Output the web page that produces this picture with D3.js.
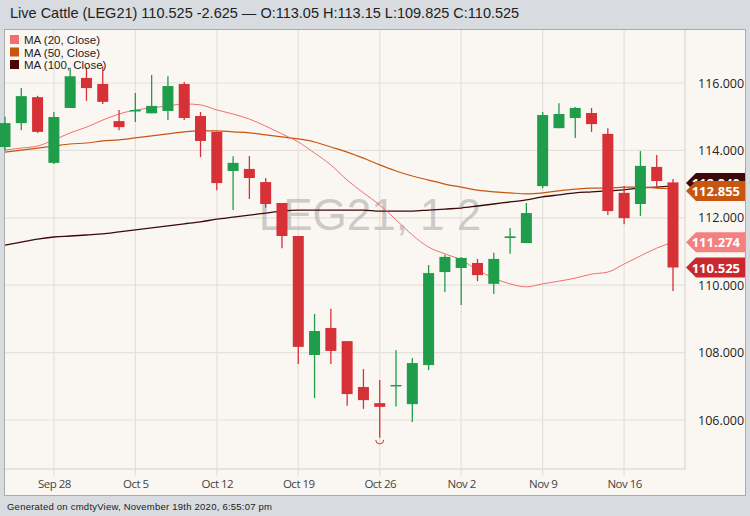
<!DOCTYPE html>
<html><head><meta charset="utf-8">
<script src="https://cdn.jsdelivr.net/npm/d3@7"></script>
<style>body{margin:0;background:#d8dbdf;}svg{display:block;font-family:"Open Sans",sans-serif;}</style>
</head><body><svg id="c" width="750" height="516"></svg>
<script>
const dates = ["Sep 23","Sep 24","Sep 25","Sep 28","Sep 29","Sep 30","Oct 1","Oct 2","Oct 5","Oct 6","Oct 7","Oct 8","Oct 9","Oct 12","Oct 13","Oct 14","Oct 15","Oct 16","Oct 19","Oct 20","Oct 21","Oct 22","Oct 23","Oct 26","Oct 27","Oct 28","Oct 29","Oct 30","Nov 2","Nov 3","Nov 4","Nov 5","Nov 6","Nov 9","Nov 10","Nov 11","Nov 12","Nov 13","Nov 16","Nov 17","Nov 18","Nov 19"];
const open  = [114.10,114.81,115.58,113.63,115.26,116.15,115.97,114.87,115.16,115.10,115.17,115.97,115.02,114.55,113.39,113.45,113.06,112.44,111.46,107.93,108.73,108.34,106.98,106.50,107.00,106.47,107.63,110.39,110.51,110.66,110.04,111.40,111.25,112.94,114.66,114.96,115.11,114.49,112.74,112.41,113.51,113.05];
const high  = [115.00,115.85,115.62,115.14,116.45,116.47,116.50,115.20,115.70,116.24,116.20,116.03,115.14,114.55,113.83,113.83,113.18,112.44,111.46,109.15,109.30,108.34,107.51,107.19,108.08,107.84,110.60,110.90,110.84,110.78,110.96,111.70,112.44,115.14,115.40,115.29,115.26,114.66,112.94,113.98,113.86,113.15];
const low   = [114.00,114.60,114.52,113.60,115.26,115.47,115.38,114.60,114.84,115.10,114.90,114.90,113.80,112.82,112.23,112.56,112.30,111.10,107.66,106.65,107.66,106.42,106.33,105.47,106.40,105.94,107.48,109.80,109.41,110.12,109.74,110.93,111.25,112.88,114.66,114.37,114.55,112.08,111.81,112.05,112.88,109.825];
const close = [114.81,115.61,114.55,114.99,116.20,115.85,115.44,114.69,115.20,115.32,115.91,114.96,114.28,113.03,113.63,113.18,112.41,111.46,108.17,108.64,108.05,106.77,106.59,106.39,107.04,107.69,110.36,110.84,110.81,110.30,110.78,111.45,112.14,115.05,115.08,115.26,114.78,112.20,111.99,113.54,113.09,110.525];
const ma20  = [114.01,114.07,114.13,114.31,114.52,114.69,114.90,115.08,115.20,115.26,115.32,115.38,115.35,115.20,115.08,114.93,114.72,114.49,114.25,113.92,113.57,113.12,112.74,112.38,111.94,111.49,111.13,110.93,110.75,110.45,110.21,110.04,109.95,110.04,110.12,110.21,110.33,110.39,110.63,110.87,111.10,111.274];
const ma50  = [113.95,114.01,114.07,114.13,114.19,114.22,114.28,114.31,114.37,114.43,114.49,114.55,114.58,114.58,114.55,114.52,114.46,114.40,114.34,114.25,114.10,113.95,113.77,113.57,113.39,113.24,113.12,113.00,112.91,112.82,112.77,112.74,112.71,112.74,112.80,112.85,112.88,112.88,112.91,112.91,112.88,112.855];
const ma100 = [111.19,111.28,111.37,111.43,111.46,111.49,111.52,111.58,111.64,111.70,111.76,111.82,111.88,111.96,112.02,112.08,112.14,112.20,112.23,112.23,112.23,112.23,112.23,112.20,112.20,112.20,112.23,112.26,112.29,112.35,112.41,112.47,112.53,112.62,112.68,112.74,112.77,112.80,112.83,112.89,112.91,112.94];
const yTicks = [106,108,110,112,114,116];
const xTicks = ["Sep 28","Oct 5","Oct 12","Oct 19","Oct 26","Nov 2","Nov 9","Nov 16"];

const svg = d3.select("#c");
const x = d3.scalePoint().domain(dates).range([5,673]);
const y = d3.scaleLinear().domain([106,116]).range([420,83]);
const G="#1f9d4b", R="#d63137";

svg.append("rect").attr("x",4.5).attr("y",29.5).attr("width",741).attr("height",466).attr("fill","#faf7f2").attr("stroke","#a9abae");
svg.append("text").attr("x",10).attr("y",18).attr("font-size",14.5).attr("fill","#222").attr("font-family","Liberation Sans, Arial").text("Live Cattle (LEG21) 110.525 -2.625 — O:113.05 H:113.15 L:109.825 C:110.525");
svg.append("text").attr("x",7).attr("y",510).attr("font-size",9.5).attr("fill","#222").attr("font-family","Liberation Sans, Arial").attr("textLength",265).text("Generated on cmdtyView, November 19th 2020, 6:55:07 pm");

const g = svg.append("g");
g.selectAll(".hg").data(yTicks).join("line").attr("x1",5).attr("x2",685).attr("y1",d=>y(d)).attr("y2",d=>y(d)).attr("stroke","#e4e1dc").attr("stroke-width",1.2);
g.selectAll(".vg").data(xTicks).join("line").attr("x1",d=>x(d)).attr("x2",d=>x(d)).attr("y1",30).attr("y2",476).attr("stroke","#e4e1dc").attr("stroke-width",1.2);
g.append("line").attr("x1",685).attr("x2",685).attr("y1",30).attr("y2",469).attr("stroke","#e0ddd8").attr("stroke-width",1.5);
g.append("line").attr("x1",5).attr("x2",685).attr("y1",469).attr("y2",469).attr("stroke","#e0ddd8").attr("stroke-width",1.5);

svg.append("text").attr("x",370).attr("y",230).attr("text-anchor","middle").attr("font-size",44).attr("fill","#b8b6b3").attr("fill-opacity",0.7).attr("font-family","Liberation Sans, Arial").text("LEG21, 1 2");

const ya = d3.axisRight(y).tickValues(yTicks).tickFormat(d3.format(".3f")).tickSize(0);
svg.append("g").attr("transform","translate(697,0)").call(ya).call(s=>{s.select(".domain").remove();s.selectAll("text").attr("font-size",12.5).attr("fill","#222").attr("font-family","Open Sans").attr("dx",-2);});
const xa = d3.axisBottom(x).tickValues(xTicks).tickSize(0);
svg.append("g").attr("transform","translate(0,477)").call(xa).call(s=>{s.select(".domain").remove();s.selectAll("text").attr("font-size",11.5).attr("fill","#444").attr("font-family","Open Sans").attr("letter-spacing",-0.5);});

const line = arr => d3.line().x((d,i)=>x(dates[i])).y(d=>y(d)).curve(d3.curveMonotoneX)(arr);
svg.append("path").attr("d",line(ma100)).attr("fill","none").attr("stroke","#3d0808").attr("stroke-width",1.3);
svg.append("path").attr("d",line(ma50)).attr("fill","none").attr("stroke","#c8560f").attr("stroke-width",1.2);
svg.append("path").attr("d",line(ma20)).attr("fill","none").attr("stroke","#f07070").attr("stroke-width",1);

const idx = d3.range(dates.length);
const cg = svg.append("g");
cg.selectAll(".w").data(idx).join("line").attr("x1",i=>x(dates[i])).attr("x2",i=>x(dates[i])).attr("y1",i=>y(high[i])).attr("y2",i=>y(low[i])).attr("stroke",i=>close[i]>=open[i]?G:R).attr("stroke-width",1.3);
cg.selectAll(".b").data(idx).join("rect").attr("x",i=>x(dates[i])-5.5).attr("width",11).attr("y",i=>y(Math.max(open[i],close[i]))).attr("height",i=>Math.max(1.5,Math.abs(y(open[i])-y(close[i])))).attr("fill",i=>close[i]>=open[i]?G:R);
const li = d3.minIndex(low);
svg.append("path").attr("d",`M${x(dates[li])-4},${y(low[li])+2} a4,4 0 0 0 8,0`).attr("fill","none").attr("stroke",R).attr("stroke-width",1);

const leg=[["MA (20, Close)","#f07070"],["MA (50, Close)","#c8560f"],["MA (100, Close)","#4a0606"]];
leg.forEach((l,i)=>{svg.append("rect").attr("x",10).attr("y",35+i*12.5).attr("width",9).attr("height",9).attr("fill",l[1]);
svg.append("text").attr("x",24).attr("y",44+i*12.5).attr("font-size",11.5).attr("fill","#222").attr("font-family","Liberation Sans, Arial").text(l[0]);});

function tag(v,col,txtcol,dy){const yy=y(v)+(dy||0);const gg=svg.append("g");
gg.append("path").attr("d",`M686,${yy} L696,${yy-10} L745,${yy-10} L745,${yy+10} L696,${yy+10} Z`).attr("fill",col);
gg.append("text").attr("x",740).attr("y",yy+5).attr("text-anchor","end").attr("font-size",13).attr("font-weight","bold").attr("fill",txtcol).attr("font-family","Open Sans").text(d3.format(".3f")(v));}
tag(ma100[ma100.length-1],"#3d0808","#fff",-3);
tag(ma50[ma50.length-1],"#c8560f","#fff",2);
tag(ma20[ma20.length-1],"#f58080","#fff");
tag(close[close.length-1],"#c8282e","#fff");
</script></body></html>
